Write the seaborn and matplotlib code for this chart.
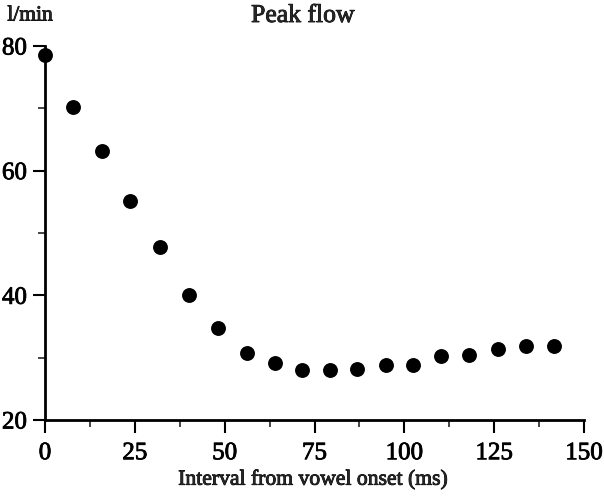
import matplotlib
matplotlib.use("Agg")
import matplotlib.pyplot as plt
import matplotlib.patheffects as pe
import seaborn as sns
import pandas as pd
from matplotlib.ticker import MultipleLocator

interval_ms = [0, 7.9, 15.9, 23.7, 32.0, 40.0, 48.1, 56.2, 64.0, 71.6, 79.3,
               86.8, 94.9, 102.4, 110.2, 118.0, 126.0, 133.9, 141.7]
peak_flow = [78.6, 70.2, 63.1, 55.2, 47.8, 40.1, 34.7, 30.8, 29.2, 28.1, 28.1,
             28.2, 28.9, 28.9, 30.2, 30.5, 31.4, 31.8, 31.8]
x_ticks = [0, 25, 50, 75, 100, 125, 150]
y_ticks = [20, 40, 60, 80]

df = pd.DataFrame({"interval": interval_ms, "flow": peak_flow})

sns.set_style("ticks")
plt.rcParams["font.family"] = ["Liberation Serif", "DejaVu Serif"]
heavy = [pe.withStroke(linewidth=0.6, foreground="black")]

fig = plt.figure(figsize=(6.04, 4.98), dpi=100)
ax = fig.add_axes([45 / 604, 1 - 420 / 498, (584 - 45) / 604, (420 - 46) / 498])

sns.scatterplot(data=df, x="interval", y="flow", ax=ax, color="black",
                s=115, linewidth=0, clip_on=False, zorder=3)

ax.set_xlim(0, 150)
ax.set_ylim(20, 80)
ax.set_xticks(x_ticks)
ax.set_yticks(y_ticks)
ax.xaxis.set_minor_locator(MultipleLocator(12.5))
ax.yaxis.set_minor_locator(MultipleLocator(10))
ax.tick_params(axis="both", which="major", length=9, width=1.5, labelsize=18,
               direction="out", colors="black", pad=4)
ax.tick_params(axis="x", which="major", pad=7)
ax.tick_params(axis="both", which="minor", length=5, width=1.2, direction="out")
for lab in ax.get_xticklabels() + ax.get_yticklabels():
    lab.set_path_effects(heavy)

sns.despine(ax=ax)
for s in ("left", "bottom"):
    ax.spines[s].set_linewidth(2)
    ax.spines[s].set_color("black")

ax.set_xlabel("")
ax.set_ylabel("")
fig.text(313 / 604, 1 - 480 / 498, "Interval from vowel onset (ms)", ha="center",
         va="center", fontsize=15.6, path_effects=heavy)
fig.text(303 / 604, 1 - 16 / 498, "Peak flow", ha="center", va="center",
         fontsize=18.5, path_effects=heavy)
fig.text(30 / 604, 1 - 16 / 498, "l/min", ha="center", va="center",
         fontsize=15.5, path_effects=heavy)

fig.savefig("out.png", dpi=100)
